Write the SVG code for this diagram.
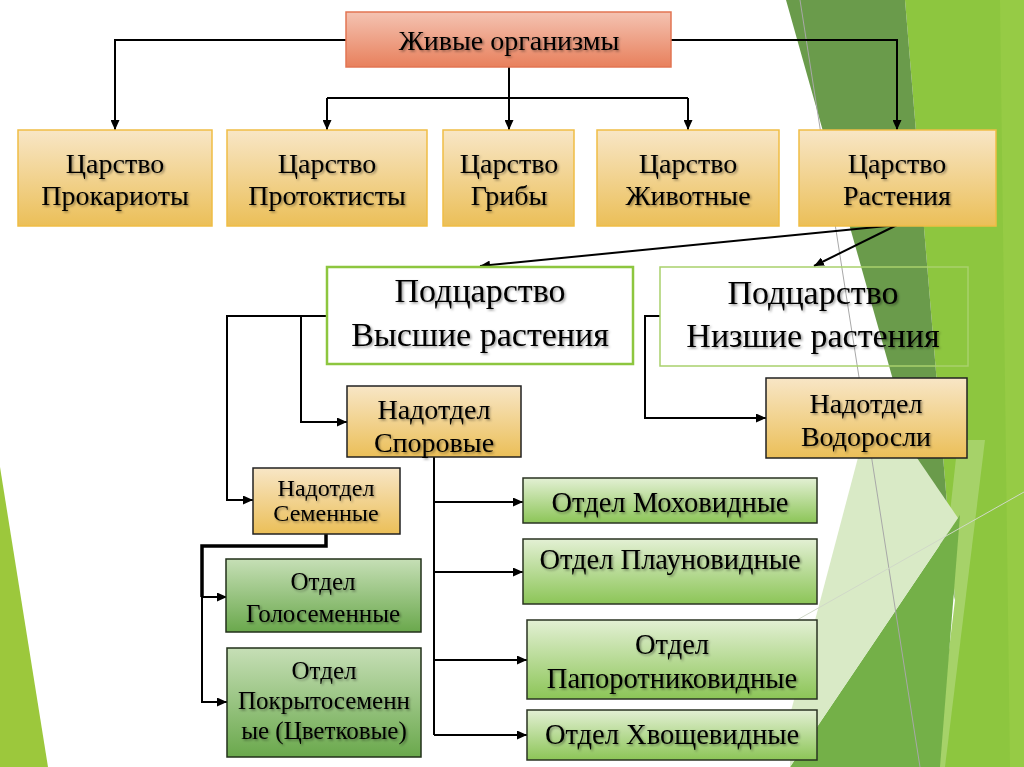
<svg xmlns="http://www.w3.org/2000/svg" width="1024" height="767" viewBox="0 0 1024 767">
<defs>
<linearGradient id="gRed" x1="0" y1="0" x2="0" y2="1"><stop offset="0" stop-color="#f4c3b2"/><stop offset="1" stop-color="#e8805c"/></linearGradient>
<linearGradient id="gGold" x1="0" y1="0" x2="0" y2="1"><stop offset="0" stop-color="#f8e6c6"/><stop offset="1" stop-color="#ebbf58"/></linearGradient>
<linearGradient id="gDark" x1="0" y1="0" x2="0" y2="1"><stop offset="0" stop-color="#c6dfb6"/><stop offset="1" stop-color="#6aa84c"/></linearGradient>
<linearGradient id="gLight" x1="0" y1="0" x2="0" y2="1"><stop offset="0" stop-color="#e3f0d4"/><stop offset="1" stop-color="#8cc557"/></linearGradient>
<filter id="ts" x="-10%" y="-30%" width="130%" height="170%"><feDropShadow dx="1.5" dy="1.5" stdDeviation="1" flood-color="#000" flood-opacity="0.4"/></filter>
<marker id="arr" markerUnits="userSpaceOnUse" markerWidth="10" markerHeight="9" refX="10" refY="4.5" orient="auto"><path d="M0,0 L10,4.5 L0,9 z" fill="#000"/></marker>
<style>
.t{font-family:"Liberation Serif","Times New Roman",serif;fill:#000;text-anchor:middle;filter:url(#ts)}
.c{fill:none;stroke:#000;stroke-width:2}
.a{marker-end:url(#arr)}
.red{fill:url(#gRed);stroke:#e27553;stroke-width:1.5}
.kg{fill:url(#gGold);stroke:#efbd45;stroke-width:1.5}
.gold{fill:url(#gGold);stroke:#222;stroke-width:1.5}
.dk{fill:url(#gDark);stroke:#22301a;stroke-width:1.5}
.lt{fill:url(#gLight);stroke:#2a3322;stroke-width:1.5}
</style>
</defs>
<rect width="1024" height="767" fill="#fff"/>
<g id="background">
<polygon points="0,467 0,767 48,767" fill="#9cc83c"/>
<polygon points="905,0 1024,0 1024,767 935,767 955,600" fill="#8dc63f"/>
<polygon points="1000,0 1024,0 1024,767 1010,767" fill="#96cb45"/>
<polygon points="786,0 905,0 955,600" fill="#6a9b4b"/>
<polygon points="958,440 985,440 945,767 922,767" fill="#fff" opacity="0.22"/>
<polygon points="790,767 960,515 940,767" fill="#74b048"/>
<polygon points="860,450 915,455 958,518 790,767 790,715" fill="#d9eac6"/>
<line x1="800" y1="0" x2="920" y2="767" stroke="#a8a8a8" stroke-width="1"/>
<line x1="790" y1="624" x2="1024" y2="492" stroke="#d0d8c8" stroke-width="1"/>
</g>
<g id="connectors">
<path class="c a" d="M346,40 H115 V130"/>
<path class="c a" d="M671,40 H897 V130"/>
<path class="c a" d="M509,67 V130"/>
<path class="c" d="M327,98 H688"/>
<path class="c a" d="M327,98 V130"/>
<path class="c a" d="M688,98 V130"/>
<path class="c a" d="M897,225 L480,266"/>
<path class="c a" d="M897,225 L814,266"/>
<path class="c a" d="M327,316 H227 V500 H253"/>
<path class="c a" d="M301,316 V422 H347"/>
<path class="c" style="stroke-width:3.5" d="M326,534 V546 H202 V597"/>
<path class="c a" d="M202,597 H227"/>
<path class="c a" d="M202,597 V702 H227"/>
<path class="c" d="M434,457 V735"/>
<path class="c a" d="M434,502 H523"/>
<path class="c a" d="M434,572 H523"/>
<path class="c a" d="M434,660 H527"/>
<path class="c a" d="M434,735 H527"/>
<path class="c a" d="M660,316 H645 V418 H766"/>
</g>
<g id="n-root"><rect class="red" x="346" y="12" width="325" height="55"/><text class="t" x="509" y="50" font-size="28">Живые организмы</text></g>
<g id="n-prok"><rect class="kg" x="18" y="130" width="194" height="96"/><text class="t" x="115" y="173" font-size="28">Царство</text><text class="t" x="115" y="205" font-size="28">Прокариоты</text></g>
<g id="n-prot"><rect class="kg" x="227" y="130" width="200" height="96"/><text class="t" x="327" y="173" font-size="28">Царство</text><text class="t" x="327" y="205" font-size="28">Протоктисты</text></g>
<g id="n-grib"><rect class="kg" x="443" y="130" width="131" height="96"/><text class="t" x="509" y="173" font-size="28">Царство</text><text class="t" x="509" y="205" font-size="28">Грибы</text></g>
<g id="n-zhiv"><rect class="kg" x="597" y="130" width="182" height="96"/><text class="t" x="688" y="173" font-size="28">Царство</text><text class="t" x="688" y="205" font-size="28">Животные</text></g>
<g id="n-rast"><rect class="kg" x="799" y="130" width="197" height="96"/><text class="t" x="897" y="173" font-size="28">Царство</text><text class="t" x="897" y="205" font-size="28">Растения</text></g>
<g id="n-vysh"><rect x="327" y="267" width="306" height="97" fill="#fff" stroke="#8dc63f" stroke-width="2.5"/><text class="t" x="480" y="302" font-size="34">Подцарство</text><text class="t" x="480" y="346" font-size="34">Высшие растения</text></g>
<g id="n-nizh"><rect x="660" y="267" width="308" height="99" fill="none" stroke="#a9d16c" stroke-width="1.5"/><text class="t" x="813" y="304" font-size="34">Подцарство</text><text class="t" x="813" y="347" font-size="34">Низшие растения</text></g>
<g id="n-spor"><rect class="gold" x="347" y="386" width="174" height="71"/><text class="t" x="434" y="419" font-size="28">Надотдел</text><text class="t" x="434" y="452" font-size="28">Споровые</text></g>
<g id="n-vodo"><rect class="gold" x="766" y="378" width="201" height="80"/><text class="t" x="866" y="413" font-size="28">Надотдел</text><text class="t" x="866" y="446" font-size="28">Водоросли</text></g>
<g id="n-sem"><rect class="gold" x="253" y="468" width="147" height="66"/><text class="t" x="326" y="496" font-size="24">Надотдел</text><text class="t" x="326" y="521" font-size="24">Семенные</text></g>
<g id="n-golo"><rect class="dk" x="226" y="559" width="195" height="73"/><text class="t" x="323" y="590" font-size="25">Отдел</text><text class="t" x="323" y="622" font-size="25">Голосеменные</text></g>
<g id="n-pokr"><rect class="dk" x="227" y="648" width="194" height="109"/><text class="t" x="324" y="679" font-size="25">Отдел</text><text class="t" x="324" y="709" font-size="25">Покрытосеменн</text><text class="t" x="324" y="739" font-size="25">ые (Цветковые)</text></g>
<g id="n-moh"><rect class="lt" x="523" y="478" width="294" height="45"/><text class="t" x="670" y="512" font-size="28.5">Отдел Моховидные</text></g>
<g id="n-plau"><rect class="lt" x="523" y="539" width="294" height="65"/><text class="t" x="670" y="569" font-size="28.5">Отдел Плауновидные</text></g>
<g id="n-papo"><rect class="lt" x="527" y="620" width="290" height="79"/><text class="t" x="672" y="654" font-size="28.5">Отдел</text><text class="t" x="672" y="688" font-size="28.5">Папоротниковидные</text></g>
<g id="n-hvo"><rect class="lt" x="527" y="710" width="290" height="50"/><text class="t" x="672" y="744" font-size="28.5">Отдел Хвощевидные</text></g>
</svg>
